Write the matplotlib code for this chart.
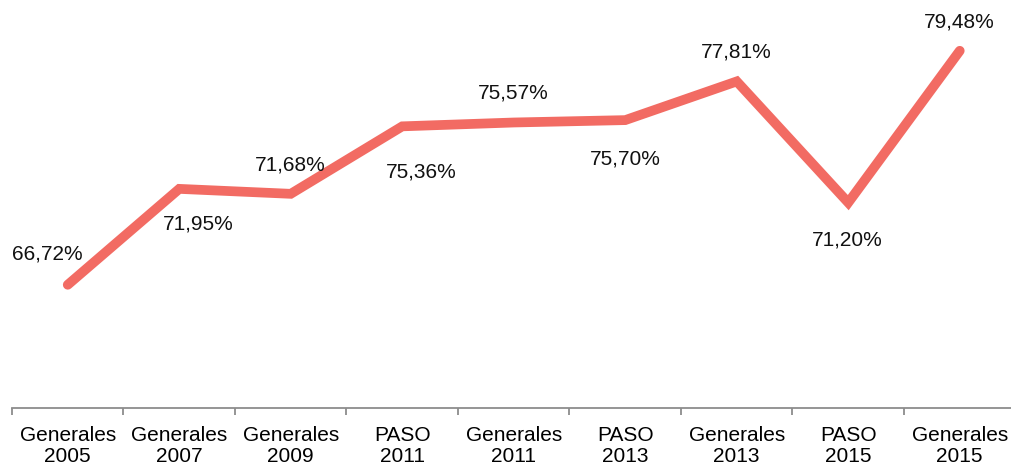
import matplotlib
matplotlib.use("Agg")
import matplotlib.pyplot as plt
import numpy as np

# ── Datos ─────────────────────────────────────────────────────────────────────
categorias = ["Generales\n2005", "Generales\n2007", "Generales\n2009", "PASO\n2011",
              "Generales\n2011", "PASO\n2013", "Generales\n2013", "PASO\n2015",
              "Generales\n2015"]
participacion = [66.72, 71.95, 71.68, 75.36, 75.57, 75.70, 77.81, 71.20, 79.48]
etiquetas = ["66,72%", "71,95%", "71,68%", "75,36%", "75,57%", "75,70%",
             "77,81%", "71,20%", "79,48%"]

# desplazamiento de cada etiqueta (puntos)
offsets = [(-15, 22), (14, -25), (0, 21), (14, -33), (0, 21), (0, -28),
           (0, 21), (-1, -27), (0, 21)]

plt.rcParams['font.family'] = ['Liberation Sans', 'DejaVu Sans']

fig = plt.figure(figsize=(10.12, 4.68), dpi=100)
ax = fig.add_axes([12/1012, 60/468, 1003.5/1012, 408/468])

x = np.arange(len(categorias))
ax.plot(x, participacion, color='#F26B63', lw=7, solid_capstyle='round',
        solid_joinstyle='miter')

for xi, yi, txt, off in zip(x, participacion, etiquetas, offsets):
    ax.annotate(txt, (xi, yi), xytext=off, textcoords='offset points',
                ha='center', va='center', fontsize=15, color='#111111')

ax.set_xlim(-0.5, len(categorias) - 0.5)
ax.set_ylim(60, 82.25)

for s in ['top', 'right', 'left']:
    ax.spines[s].set_visible(False)
ax.spines['bottom'].set_color('#8c8c8c')
ax.spines['bottom'].set_linewidth(1.3)

ax.set_yticks([])
ax.set_xticks(x)
ax.set_xticklabels(categorias, fontsize=15, linespacing=1.1)
ax.tick_params(axis='x', which='major', length=0, pad=13)
ax.set_xticks(np.arange(-0.5, len(categorias)), minor=True)
ax.tick_params(axis='x', which='minor', length=5, width=1.3, color='#8c8c8c')

plt.savefig('out.png', dpi=100)
